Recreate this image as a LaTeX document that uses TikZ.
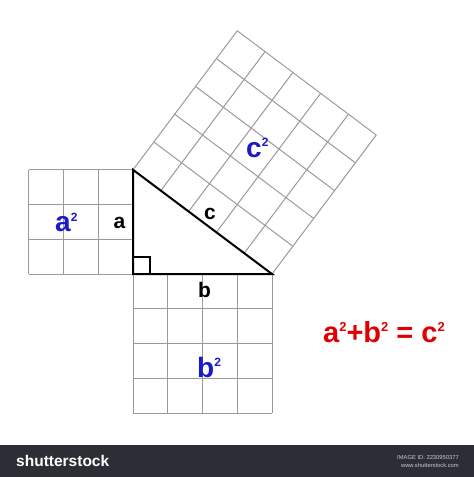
\documentclass[tikz,border=0pt]{standalone}
\usepackage{fontspec}
\setmainfont{Liberation Sans}
\usetikzlibrary{calc}
\definecolor{gridgray}{HTML}{9A9A9A}
\definecolor{sqblue}{HTML}{1A1AC8}
\definecolor{eqred}{HTML}{E00000}
\definecolor{barbg}{HTML}{2B2F35}
\definecolor{bartext}{HTML}{C8CACD}
\newcommand\mysup[2]{\raisebox{#1}{\fontsize{#2}{#2}\selectfont 2}}
\begin{document}
\begin{tikzpicture}[x=1pt,y=-1pt,
  gridline/.style={draw=gridgray,line width=1pt},
  tri/.style={draw=black,line width=2pt,line join=miter},
  sidelabel/.style={inner sep=0pt,font=\fontsize{21}{21}\selectfont\bfseries},
  arealabel/.style={inner sep=0pt,anchor=base west,text=sqblue,font=\fontsize{28}{28}\selectfont\bfseries},
  eqlabel/.style={inner sep=0pt,anchor=base west,text=eqred,font=\fontsize{29}{29}\selectfont\bfseries}]
\useasboundingbox (0,0) rectangle (474,477);
\fill[white] (0,0) rectangle (474,477);
% triangle corners
\coordinate (C) at (133,274);
\coordinate (A) at (133,169.75);
\coordinate (B) at (272,274);
\coordinate (D) at (237.25,30.75);
\coordinate (E) at (376.25,135);
% a-square 3x3
\foreach \i in {0,1,2,3}{
  \draw[gridline] ($(A)+(-104.25,0)+(\i*34.75,0)$) -- ($(C)+(-104.25,0)+(\i*34.75,0)$);
  \draw[gridline] ($(A)+(-104.25,\i*34.75)$) -- ($(A)+(0,\i*34.75)$);
}
% b-square 4x4
\foreach \i in {0,...,4}{
  \draw[gridline] ($(C)+(\i*34.75,0)$) -- ($(C)+(\i*34.75,139)$);
  \draw[gridline] ($(C)+(0,\i*34.75)$) -- ($(B)+(0,\i*34.75)$);
}
% c-square 5x5
\foreach \i in {0,...,5}{
  \draw[gridline] ($(A)!\i/5!(D)$) -- ($(B)!\i/5!(E)$);
  \draw[gridline] ($(A)!\i/5!(B)$) -- ($(D)!\i/5!(E)$);
}
% triangle
\draw[tri] (A) -- (B) -- (C) -- cycle;
\draw[draw=black,line width=1.3pt] ($(C)+(0,-17)$) -- ($(C)+(17,-17)$) -- ($(C)+(17,0)$);
% side labels
\node[sidelabel] (la) at (119.5,223) {a};
\node[sidelabel] (lb) at (204.5,289.5) {b};
\node[sidelabel] (lc) at (210,214) {c};
% area labels
\node[arealabel] (sa) at (55,231) {a\mysup{10pt}{12}};
\node[arealabel] (sb) at (197,377) {b\mysup{11pt}{12}};
\node[arealabel] (sc) at (246,157) {c\mysup{11pt}{12}};
% equation
\node[eqlabel] (eq) at (323,342) {a\mysup{11pt}{13}+b\mysup{11pt}{13} = c\mysup{11pt}{13}};
% bottom bar
\fill[barbg] (0,445) rectangle (474,477);
\node[inner sep=0pt,anchor=base west,text=white,font=\fontsize{15.5}{15.5}\selectfont\bfseries] (logo) at (16,466) {shutterstock};
\node[inner sep=0pt,anchor=base east,text=bartext,font=\fontsize{5.8}{5.8}\selectfont] (imgid) at (459,459) {IMAGE ID: 2230950377};
\node[inner sep=0pt,anchor=base east,text=bartext,font=\fontsize{5.8}{5.8}\selectfont] (www) at (459,467) {www.shutterstock.com};
\end{tikzpicture}
\end{document}
